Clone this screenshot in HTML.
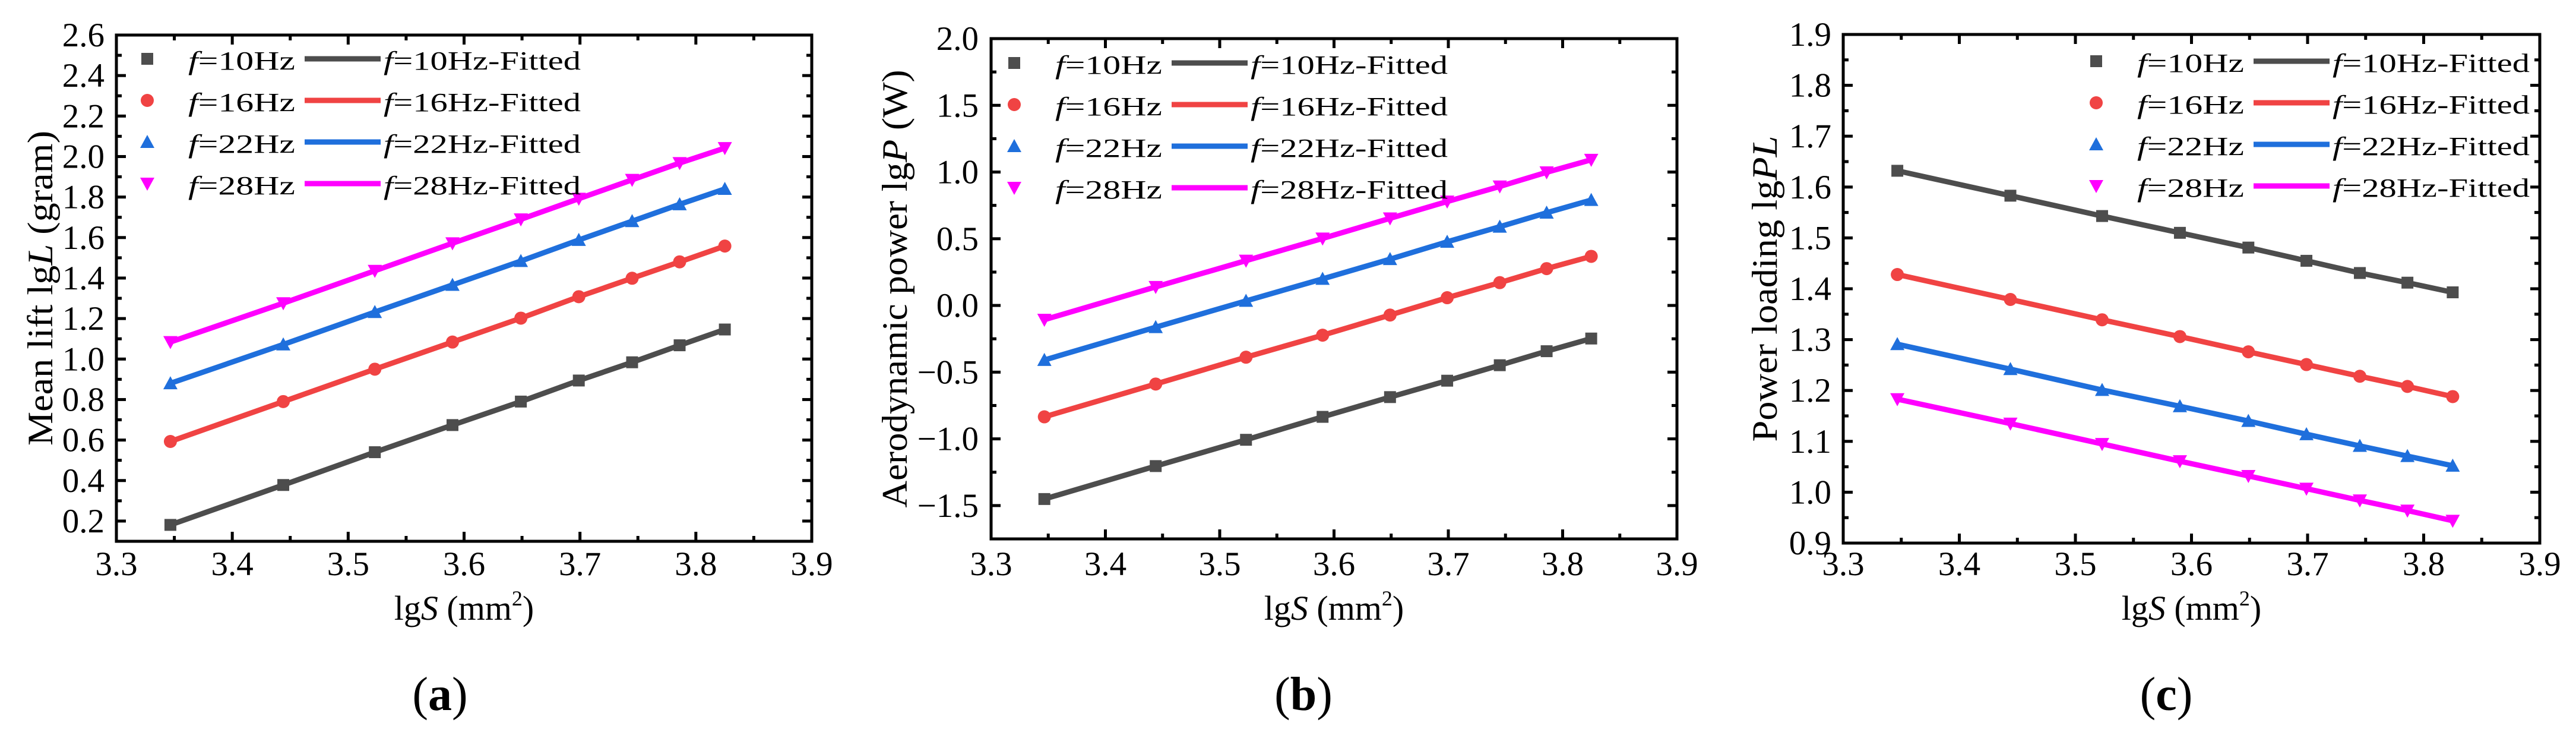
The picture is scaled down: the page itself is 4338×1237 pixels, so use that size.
<!DOCTYPE html>
<html><head><meta charset="utf-8"><style>
html,body{margin:0;padding:0;background:#fff;}
svg{display:block;font-family:"Liberation Serif",serif;}
</style></head><body>
<svg id="fig" width="4338" height="1237" viewBox="0 0 4338 1237" xmlns="http://www.w3.org/2000/svg"></svg>
<script>
const xValues = [3.3466, 3.444, 3.523, 3.590, 3.649, 3.699, 3.745, 3.786, 3.825];
const seriesLabels = ["10Hz", "16Hz", "22Hz", "28Hz"];
const liftF10 = [0.181, 0.378, 0.54, 0.674, 0.79, 0.894, 0.984, 1.068, 1.146];
const liftF16 = [0.593, 0.79, 0.95, 1.084, 1.202, 1.308, 1.399, 1.48, 1.558];
const liftF22 = [0.88, 1.072, 1.232, 1.366, 1.484, 1.588, 1.681, 1.764, 1.84];
const liftF28 = [1.084, 1.276, 1.436, 1.572, 1.69, 1.792, 1.885, 1.968, 2.042];
const powerF10 = [-1.451, -1.204, -1.007, -0.835, -0.687, -0.564, -0.448, -0.343, -0.248];
const powerF16 = [-0.835, -0.589, -0.388, -0.223, -0.072, 0.058, 0.171, 0.276, 0.368];
const powerF22 = [-0.409, -0.163, 0.034, 0.199, 0.347, 0.477, 0.59, 0.695, 0.79];
const powerF28 = [-0.107, 0.139, 0.336, 0.502, 0.653, 0.779, 0.892, 0.998, 1.092];
const loadF10 = [1.632, 1.583, 1.543, 1.510, 1.481, 1.455, 1.431, 1.412, 1.393];
const loadF16 = [1.428, 1.379, 1.339, 1.306, 1.276, 1.251, 1.228, 1.208, 1.188];
const loadF22 = [1.291, 1.242, 1.201, 1.169, 1.140, 1.114, 1.091, 1.071, 1.052];
const loadF28 = [1.183, 1.135, 1.095, 1.061, 1.032, 1.007, 0.984, 0.964, 0.944];
const xTicks = ["3.3", "3.4", "3.5", "3.6", "3.7", "3.8", "3.9"];
const yTicksA = ["0.2", "0.4", "0.6", "0.8", "1.0", "1.2", "1.4", "1.6", "1.8", "2.0", "2.2", "2.4", "2.6"];
const yTicksB = ["\u22121.5", "\u22121.0", "\u22120.5", "0.0", "0.5", "1.0", "1.5", "2.0"];
const yTicksC = ["0.9", "1.0", "1.1", "1.2", "1.3", "1.4", "1.5", "1.6", "1.7", "1.8", "1.9"];

const NS = "http://www.w3.org/2000/svg";
const svg = document.getElementById("fig");
const colors = ["#4d4d4d", "#f04343", "#1f6fdc", "#ff00ff"];
function mk(tag, attrs, parent) {
  const e = document.createElementNS(NS, tag);
  for (const k in attrs) e.setAttribute(k, attrs[k]);
  (parent || svg).appendChild(e);
  return e;
}
function marker(g, kind, cx, cy, color) {
  let m;
  if (kind === 0) m = mk("rect", {x: cx - 10, y: cy - 10, width: 20, height: 20, fill: color}, g);
  else if (kind === 1) m = mk("circle", {cx: cx, cy: cy, r: 11, fill: color}, g);
  else if (kind === 2) m = mk("polygon", {points: `${cx},${cy-12} ${cx+12},${cy+10} ${cx-12},${cy+10}`, fill: color}, g);
  else m = mk("polygon", {points: `${cx},${cy+12} ${cx+12},${cy-10} ${cx-12},${cy-10}`, fill: color}, g);
  return m;
}

const panels = [
  {id: "a", L: 196, R: 1367, T: 59, B: 911, ymin: 0.1, ymax: 2.6, yTicks: yTicksA, yMinor: 0.1,
   series: [liftF10, liftF16, liftF22, liftF28], ylabR: 176, ytX: 88, ytLen: 530,
   ytitle: ['Mean lift lg', 'L', ' (gram)'], legX: 248, legY: 99, capX: 741, cap: "a"},
  {id: "b", L: 1669, R: 2824, T: 65, B: 907, ymin: -1.75, ymax: 2.0, yTicks: yTicksB, yMinor: 0.25,
   series: [powerF10, powerF16, powerF22, powerF28], ylabR: 1648, ytX: 1527, ytLen: 737,
   ytitle: ['Aerodynamic power lg', 'P', ' (W)'], legX: 1708, legY: 106, capX: 2195, cap: "b"},
  {id: "c", L: 3104, R: 4277, T: 58, B: 914, ymin: 0.9, ymax: 1.9, yTicks: yTicksC, yMinor: 0.05,
   series: [loadF10, loadF16, loadF22, loadF28], ylabR: 3084, ytX: 2992, ytLen: 515,
   ytitle: ['Power loading lg', 'PL', ''], legX: 3530, legY: 103, capX: 3648, cap: "c"}
];

panels.forEach(p => {
  const g = mk("g", {});
  
  
  const xs = v => p.L + (v - 3.3) / 0.6 * (p.R - p.L);
  const ys = v => p.B - (v - p.ymin) / (p.ymax - p.ymin) * (p.B - p.T);
  const tg = mk("g", {stroke: "#000", "stroke-width": 5}, g);
  
  
  for (let i = 0; i <= 12; i++) {
    const v = 3.3 + i * 0.05, x = xs(v), len = i % 2 === 0 ? 16 : 9;
    mk("line", {x1: x, y1: p.B, x2: x, y2: p.B - len}, tg);
    mk("line", {x1: x, y1: p.T, x2: x, y2: p.T + len}, tg);
  }
  const nMinor = Math.round((p.ymax - p.ymin) / p.yMinor);
  for (let i = 0; i <= nMinor; i++) {
    const v = p.ymin + i * p.yMinor, y = ys(v);
    const isMajor = p.yTicks.some(t => Math.abs(parseFloat(t.replace("\u2212", "-")) - v) < 1e-6);
    const len = isMajor ? 16 : 9;
    mk("line", {x1: p.L, y1: y, x2: p.L + len, y2: y}, tg);
    mk("line", {x1: p.R, y1: y, x2: p.R - len, y2: y}, tg);
  }
  const fr = mk("rect", {x: p.L, y: p.T, width: p.R - p.L, height: p.B - p.T, fill: "none", stroke: "#000", "stroke-width": 5}, g);
  
  
  xTicks.forEach(t => {
    const tx = mk("text", {x: xs(parseFloat(t)), y: 968, "font-size": 57, "text-anchor": "middle"}, g);
    
    
    tx.textContent = t;
  });
  p.yTicks.forEach(t => {
    const tx = mk("text", {x: p.ylabR, y: ys(parseFloat(t.replace("\u2212", "-"))) + 19, "font-size": 57, "text-anchor": "end"}, g);
    
    
    tx.textContent = t;
  });
  const xt = mk("text", {x: (p.L + p.R) / 2, y: 1043, "font-size": 58, "text-anchor": "middle"}, g);
  
  
  xt.innerHTML = 'lg<tspan font-style="italic">S</tspan> (mm<tspan font-size="36" dy="-24">2</tspan><tspan dy="24">)</tspan>';
  const cy = (p.T + p.B) / 2;
  const yt = mk("text", {x: p.ytX, y: cy, "font-size": 60, "text-anchor": "middle", textLength: p.ytLen, lengthAdjust: "spacingAndGlyphs", transform: `rotate(-90 ${p.ytX} ${cy})`}, g);
  
  
  yt.innerHTML = p.ytitle[0] + '<tspan font-style="italic">' + p.ytitle[1] + '</tspan>' + p.ytitle[2];
  p.series.forEach((vals, si) => {
    const sg = mk("g", {}, g);
    
    
    const pts = vals.map((v, i) => xs(xValues[i]) + "," + ys(v)).join(" ");
    const ln = mk("polyline", {points: pts, fill: "none", stroke: colors[si], "stroke-width": 9}, sg);
    
    
    vals.forEach((v, i) => {
      const m = marker(sg, si, xs(xValues[i]), ys(v), colors[si]);
      
      
    });
  });
  const lg = mk("g", {}, g);
  
  
  seriesLabels.forEach((lab, si) => {
    const y = p.legY + si * 70;
    const m = marker(lg, si, p.legX, y, colors[si]);
    
    
    const t1 = mk("text", {x: p.legX + 69, y: y + 18, "font-size": 44, textLength: 180, lengthAdjust: "spacingAndGlyphs"}, lg);
    
    
    t1.innerHTML = '<tspan font-style="italic">f</tspan>=' + lab;
    const l = mk("line", {x1: p.legX + 265, y1: y, x2: p.legX + 393, y2: y, stroke: colors[si], "stroke-width": 9}, lg);
    
    
    const t2 = mk("text", {x: p.legX + 398, y: y + 18, "font-size": 44, textLength: 332, lengthAdjust: "spacingAndGlyphs"}, lg);
    
    
    t2.innerHTML = '<tspan font-style="italic">f</tspan>=' + lab + '-Fitted';
  });
  const cp = mk("text", {x: p.capX, y: 1195, "font-size": 80, "text-anchor": "middle"}, g);
  
  
  cp.innerHTML = '(<tspan font-weight="bold">' + p.cap + '</tspan>)';
});
</script>
</body></html>
